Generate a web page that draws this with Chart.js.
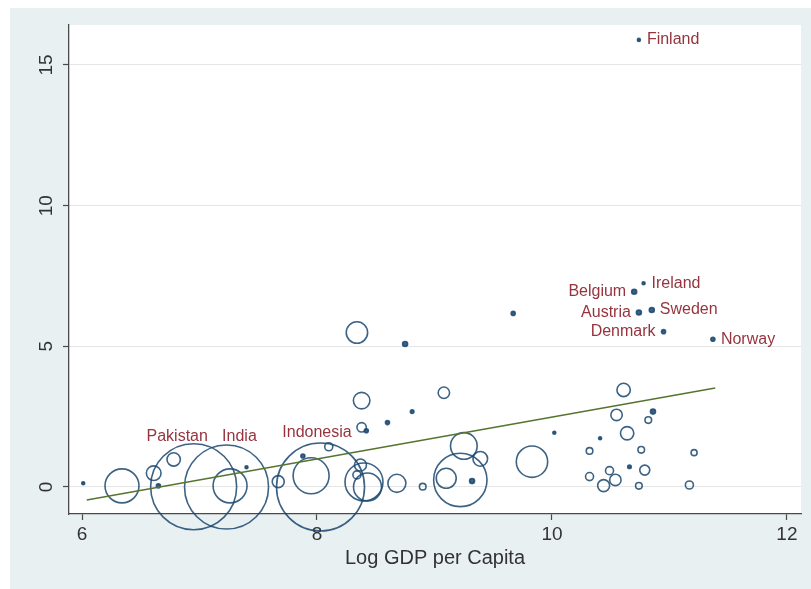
<!DOCTYPE html>
<html>
<head>
<meta charset="utf-8">
<script src="https://cdn.jsdelivr.net/npm/chart.js@4.4.1/dist/chart.umd.min.js"></script>
<style>
  html, body { margin: 0; padding: 0; background: #ffffff; }
  canvas { display: block; }
</style>
</head>
<body>
<canvas id="chart" width="811" height="589"></canvas>
<script>
// Country observations: log GDP per capita, outcome value, population (millions)
const logGdp = [
  6.01, 6.34, 6.61, 6.65, 6.78, 6.95, 7.23, 7.26, 7.40, 7.67,
  7.95, 8.03, 8.10, 7.88, 8.38, 9.08, 8.81, 8.60, 8.38, 8.42,
  10.02, 9.25, 9.39, 9.83, 9.22, 9.10, 9.32, 8.68, 8.90, 8.40,
  8.37, 8.34, 8.43, 10.32, 10.32, 10.61, 10.55, 10.86, 10.82, 10.64,
  10.41, 10.76, 11.21, 10.66, 10.79, 10.49, 10.54, 10.44, 10.74, 11.17,
  10.70, 10.78, 10.74, 10.85, 10.95, 11.37, 10.74, 8.34, 8.75, 9.67
];
const yValue = [
  0.13, 0.04, 0.49, 0.04, 0.98, 0.01, 0.00, 0.04, 0.70, 0.19,
  0.40, 0.00, 1.43, 1.10, 3.07, 3.35, 2.68, 2.29, 2.12, 2.00,
  1.93, 1.46, 1.00, 0.90, 0.25, 0.31, 0.21, 0.13, 0.01, 0.18,
  0.78, 0.43, 0.00, 1.28, 0.37, 3.45, 2.56, 2.68, 2.38, 1.91,
  1.73, 1.32, 1.22, 0.72, 0.60, 0.58, 0.25, 0.05, 0.04, 0.07,
  6.94, 7.24, 6.20, 6.29, 5.52, 5.25, 15.89, 5.49, 5.08, 6.17
];
const population = [
  1.2, 156, 29, 2.2, 24, 1000, 954, 156, 1.2, 19.5,
  175, 1047, 8.7, 2.2, 37, 17.6, 1.75, 2.2, 11.9, 2.2,
  1.2, 96, 29, 133, 385, 54, 3.4, 44, 5.9, 195,
  19.5, 8.7, 106, 5.9, 8.7, 24, 17.6, 3.4, 5.9, 24,
  1.2, 5.9, 4.9, 1.75, 13.5, 8.7, 17.6, 19.5, 5.9, 8.7,
  3.4, 1.2, 3.4, 3.4, 2.2, 2.2, 1.2, 62, 3.4, 2.2
];

// Linear fit line end points
const fitX = [6.04, 11.39];
const fitY = [-0.46, 3.52];

// Axis ticks
const xTicks = [6, 8, 10, 12];
const yTicks = [0, 5, 10, 15];

// Country labels (anchor in data units, side of the anchor the text sits on)
const labelText = ['Finland', 'Ireland', 'Belgium', 'Sweden', 'Austria', 'Denmark', 'Norway', 'Pakistan', 'India', 'Indonesia'];
const labelX    = [10.74, 10.78, 10.70, 10.85, 10.74, 10.95, 11.37, 6.81, 7.34, 8.00];
const labelY    = [15.89, 7.24, 6.94, 6.29, 6.20, 5.52, 5.25, 1.78, 1.78, 1.92];
const labelSide = ['right', 'right', 'left', 'right', 'left', 'left', 'right', 'center', 'center', 'center'];

const FONT = '"Liberation Sans", Arial, Helvetica, sans-serif';
const NAVY = 'rgba(26,71,111,0.85)';
const MAROON = 'rgb(150,52,62)';
const GREEN = 'rgb(85,117,47)';
const AXIS = '#4a4a4a';
const BUBBLE_SCALE = 1.36; // pixel radius per sqrt(population)

Chart.defaults.font.family = FONT;

const bubblePoints = logGdp.map((x, i) => ({ x: x, y: yValue[i], r: BUBBLE_SCALE * Math.sqrt(population[i]) }));
const fitPoints = fitX.map((x, i) => ({ x: x, y: fitY[i] }));

const backgroundPlugin = {
  id: 'regions',
  beforeDraw(chart) {
    const { ctx, chartArea: a, width, height } = chart;
    ctx.save();
    ctx.fillStyle = '#ffffff';
    ctx.fillRect(0, 0, width, height);
    ctx.fillStyle = '#e8f0f2';
    ctx.fillRect(10, 8, width - 10, height - 8);
    ctx.fillStyle = '#ffffff';
    ctx.fillRect(a.left, a.top, a.right - a.left, a.bottom - a.top);
    ctx.restore();
  }
};

const labelPlugin = {
  id: 'countryLabels',
  afterDatasetsDraw(chart) {
    const { ctx, scales } = chart;
    ctx.save();
    ctx.font = '16px ' + FONT;
    ctx.fillStyle = MAROON;
    ctx.textBaseline = 'middle';
    labelText.forEach((t, i) => {
      let px = scales.x.getPixelForValue(labelX[i]);
      const py = scales.y.getPixelForValue(labelY[i]);
      if (labelSide[i] === 'right') { ctx.textAlign = 'left'; px += 8; }
      else if (labelSide[i] === 'left') { ctx.textAlign = 'right'; px -= 8; }
      else { ctx.textAlign = 'center'; }
      ctx.fillText(t, px, py);
    });
    ctx.restore();
  }
};

new Chart(document.getElementById('chart'), {
  type: 'bubble',
  data: {
    datasets: [
      {
        type: 'line',
        data: fitPoints,
        borderColor: GREEN,
        borderWidth: 1.5,
        pointRadius: 0,
        fill: false,
        clip: false
      },
      {
        type: 'bubble',
        data: bubblePoints,
        // the smallest markers read as solid dots
        backgroundColor: ctx => (ctx.raw && ctx.raw.r < 3 ? NAVY : 'rgba(0,0,0,0)'),
        borderColor: NAVY,
        borderWidth: 1.6,
        clip: false
      }
    ]
  },
  options: {
    responsive: false,
    animation: false,
    devicePixelRatio: 1,
    layout: { padding: { left: 0, right: 10, top: 25, bottom: 0 }, autoPadding: false },
    plugins: { legend: { display: false }, tooltip: { enabled: false } },
    scales: {
      x: {
        type: 'linear',
        min: 5.889,
        max: 12.12,
        afterBuildTicks: s => { s.ticks = xTicks.map(v => ({ value: v })); },
        afterFit: s => { s.height = 75; },
        grid: { drawOnChartArea: false, drawTicks: true, tickLength: 6, tickColor: AXIS, tickWidth: 1.2 },
        border: { display: true, color: AXIS, width: 1.3 },
        ticks: { font: { size: 19 }, color: '#333333', padding: 3, maxRotation: 0, autoSkip: false },
        title: { display: true, text: 'Log GDP per Capita', font: { size: 20 }, color: '#333333', padding: { top: 4, bottom: 19 } }
      },
      y: {
        type: 'linear',
        min: -0.96,
        max: 16.42,
        afterBuildTicks: s => { s.ticks = yTicks.map(v => ({ value: v })); },
        afterFit: s => { s.width = 69; },
        grid: { color: '#e6e6e6', lineWidth: 1, drawTicks: true, tickLength: 6, tickColor: AXIS, tickWidth: 1.2 },
        border: { display: true, color: AXIS, width: 1.3 },
        ticks: { font: { size: 19 }, color: '#333333', padding: 5.5, minRotation: 90, maxRotation: 90, crossAlign: 'center', autoSkip: false }
      }
    }
  },
  plugins: [backgroundPlugin, labelPlugin]
});
</script>
</body>
</html>
